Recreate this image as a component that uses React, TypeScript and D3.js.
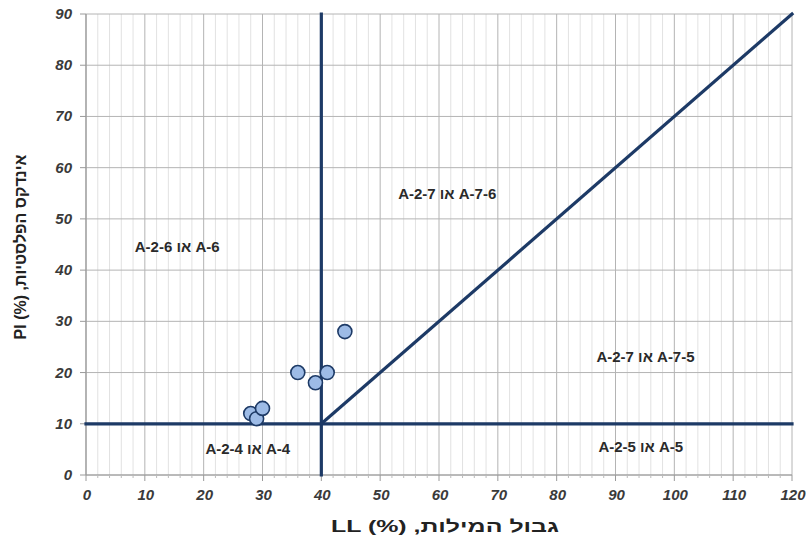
import React from "react";
import * as d3 from "d3";

const xTicks = [0, 10, 20, 30, 40, 50, 60, 70, 80, 90, 100, 110, 120];
const yTicks = [0, 10, 20, 30, 40, 50, 60, 70, 80, 90];
const pointLL = [28, 29, 30, 36, 39, 41, 44];
const pointPI = [12, 11, 13, 20, 18, 20, 28];
const regionLabels = ["A-2-6 או A-6", "A-2-7 או A-7-6", "A-2-7 או A-7-5", "A-2-5 או A-5", "A-2-4 או A-4"];
const regionLL = [15.5, 61.4, 95.1, 94.3, 27.5];
const regionPI = [44.5, 54.9, 23, 5.5, 5];
const boundaryLL = [40, 40, 0, 120, 40, 120];
const boundaryPI = [0, 90, 10, 10, 10, 90];
const xTitle = "LL (%) ,גבול המילות";
const yTitle = "PI (%) ,אינדקס הפלסטיות";

export default function App() {
  const W = 806, H = 542;
  const x = d3.scaleLinear().domain([0, 120]).range([86, 792]);
  const y = d3.scaleLinear().domain([0, 90]).range([475, 14]);
  const minor = d3.range(0, 121, 2).filter((v) => v % 10 !== 0);
  const navy = "#1d3a66";
  const fontTick = "Liberation Sans, Arial, sans-serif";
  const segs = [0, 1, 2].map((i) => [
    [boundaryLL[i * 2], boundaryPI[i * 2]],
    [boundaryLL[i * 2 + 1], boundaryPI[i * 2 + 1]],
  ]);
  const line = d3.line<number[]>().x((d) => x(d[0])).y((d) => y(d[1]));
  return (
    <svg width={W} height={H} style={{ position: "absolute", left: 0, top: 0, background: "#fff" }}>
      <rect x={0} y={0} width={W} height={H} fill="#fff" />
      {minor.map((v) => (
        <line key={"m" + v} x1={x(v)} x2={x(v)} y1={y(0)} y2={y(90)} stroke="#e2e2e2" strokeWidth={1} />
      ))}
      {xTicks.map((v) => (
        <line key={"gx" + v} x1={x(v)} x2={x(v)} y1={y(0)} y2={y(90)} stroke="#b4b4b4" strokeWidth={1} />
      ))}
      {yTicks.map((v) => (
        <line key={"gy" + v} x1={x(0)} x2={x(120)} y1={y(v)} y2={y(v)} stroke="#b4b4b4" strokeWidth={1} />
      ))}
      {/* axes */}
      <line x1={x(0)} x2={x(0)} y1={y(0)} y2={y(90)} stroke="#9a9a9a" strokeWidth={1.2} />
      <line x1={x(0)} x2={x(120)} y1={y(0)} y2={y(0)} stroke="#9a9a9a" strokeWidth={1.2} />
      {yTicks.map((v) => (
        <line key={"ty" + v} x1={x(0) - 6} x2={x(0)} y1={y(v)} y2={y(v)} stroke="#9a9a9a" />
      ))}
      {xTicks.map((v) => (
        <line key={"tx" + v} x1={x(v)} x2={x(v)} y1={y(0)} y2={y(0) + 6} stroke="#9a9a9a" />
      ))}
      {minor.map((v) => (
        <line key={"tm" + v} x1={x(v)} x2={x(v)} y1={y(0)} y2={y(0) + 3} stroke="#bbb" />
      ))}
      {yTicks.map((v) => (
        <text key={"ly" + v} x={x(0) - 14} y={y(v) + 5} textAnchor="end" fontFamily={fontTick}
          fontStyle="italic" fontWeight="bold" fontSize={15} fill="#3a3a3a">{v}</text>
      ))}
      {xTicks.map((v) => (
        <text key={"lx" + v} x={x(v) + 1} y={y(0) + 25} textAnchor="middle" fontFamily={fontTick}
          fontStyle="italic" fontWeight="bold" fontSize={15} fill="#3a3a3a">{v}</text>
      ))}
      {/* boundaries */}
      {segs.map((s, i) => (
        <path key={"b" + i} d={line(s) || ""} stroke={navy} strokeWidth={3.2} fill="none" strokeLinecap="square" />
      ))}
      {/* points */}
      {pointLL.map((v, i) => (
        <circle key={"p" + i} cx={x(v)} cy={y(pointPI[i])} r={7} fill="#9dbbe6" stroke={navy} strokeWidth={1.6} />
      ))}
      {/* region labels */}
      {regionLabels.map((t, i) => (
        <text key={"r" + i} x={x(regionLL[i])} y={y(regionPI[i]) + 5} textAnchor="middle" fontFamily={fontTick}
          fontWeight="bold" fontSize={15} fill="#2a2a2a">{t}</text>
      ))}
      <text x={445} y={532} textAnchor="middle" fontFamily={fontTick} fontWeight="bold" fontSize={17}
        textLength={228} lengthAdjust="spacingAndGlyphs" fill="#222">{xTitle}</text>
      <text transform="translate(26,247) rotate(-90)" textAnchor="middle" fontFamily={fontTick} fontWeight="bold"
        fontSize={16} fill="#222">{yTitle}</text>
    </svg>
  );
}
